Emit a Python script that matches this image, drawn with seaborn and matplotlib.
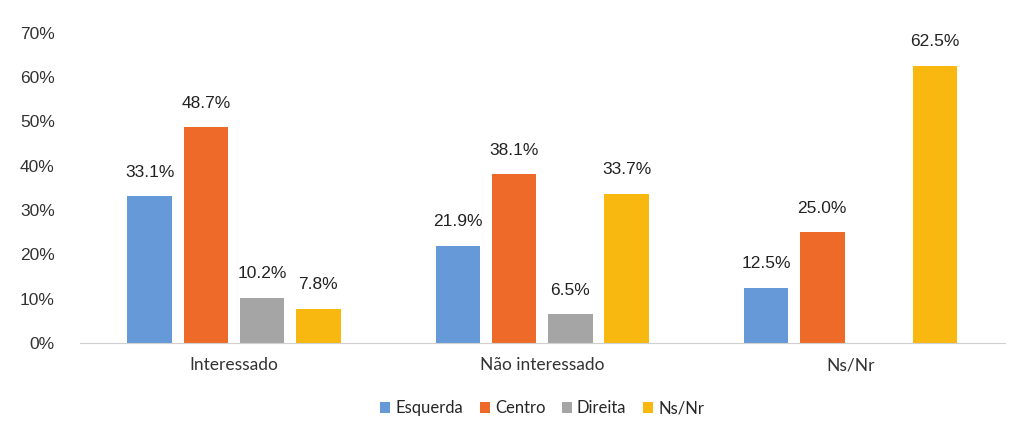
import pandas as pd
import seaborn as sns
import matplotlib
matplotlib.use('Agg')
import matplotlib.pyplot as plt
from matplotlib.ticker import PercentFormatter

groups = ['Interessado', 'Não interessado', 'Ns/Nr']
series = ['Esquerda', 'Centro', 'Direita', 'Ns/Nr']
esquerda = [33.1, 21.9, 12.5]
centro = [48.7, 38.1, 25.0]
direita = [10.2, 6.5, 0.0]
nsnr = [7.8, 33.7, 62.5]
colors = ['#6599D7', '#EE6A28', '#A5A5A5', '#F9B80F']

rows = []
for name, vals in zip(series, [esquerda, centro, direita, nsnr]):
    for g, v in zip(groups, vals):
        rows.append({'grupo': g, 'serie': name, 'valor': v})
df = pd.DataFrame(rows)

sns.set_style('white')
plt.rcParams['font.family'] = ['Liberation Sans', 'DejaVu Sans']

fig = plt.figure(figsize=(10.24, 4.21), dpi=100)
ax = fig.add_axes([0.078, 0.185, 0.903, 0.737])

sns.barplot(data=df, x='grupo', y='valor', hue='serie', hue_order=series,
            palette=colors, width=0.73, gap=0.21, ax=ax, legend=True,
            linewidth=0, saturation=1)

for cont in ax.containers:
    labels = [f'{v:.1f}%' if v > 0 else '' for v in cont.datavalues]
    ax.bar_label(cont, labels=labels, padding=12, fontsize=12.5, color='#222222')

ax.set_ylim(0, 70)
ax.set_yticks(range(0, 71, 10))
ax.yaxis.set_major_formatter(PercentFormatter(decimals=0))
ax.set_xlabel('')
ax.set_ylabel('')
ax.tick_params(axis='y', labelsize=12.5, colors='#333333', length=0, pad=18)
ax.tick_params(axis='x', length=0, pad=10)
for lab in ax.get_xticklabels():
    lab.set_family(['Lato', 'DejaVu Sans'])
    lab.set_fontsize(12.5)
    lab.set_color('#333333')

for s in ['top', 'right', 'left']:
    ax.spines[s].set_visible(False)
ax.spines['bottom'].set_color('#D0D0D0')
ax.grid(False)

handles, labs = ax.get_legend_handles_labels()
ax.legend(handles, labs, loc='center', bbox_to_anchor=(0.5, -0.21),
          ncol=4, frameon=False, handlelength=0.6, handleheight=0.6,
          handletextpad=0.3, columnspacing=1.0,
          prop={'family': ['Lato', 'DejaVu Sans'], 'size': 12})

fig.savefig('out.png', dpi=100)
